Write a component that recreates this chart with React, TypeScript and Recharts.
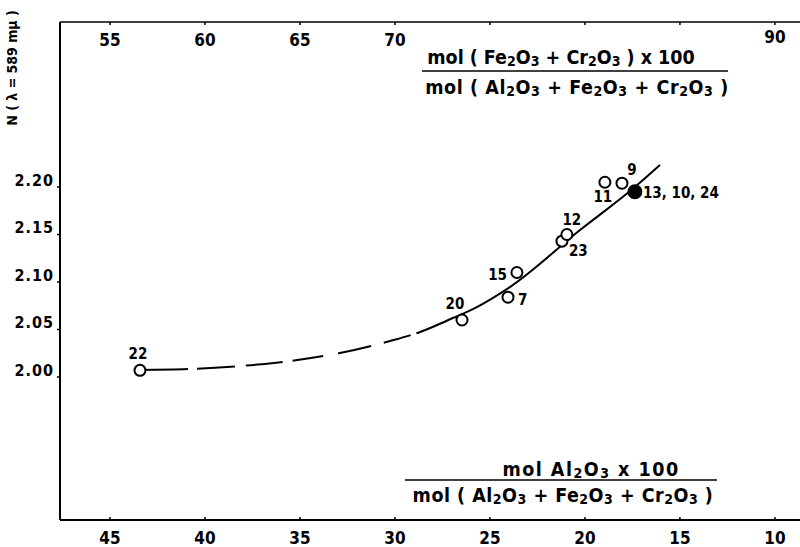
import React from "react";
import { ComposedChart, Line, Scatter, XAxis, YAxis } from "recharts";

const bottomTicks = [45, 40, 35, 30, 25, 20, 15, 10];
const topTicks = [55, 60, 65, 70, 75, 80, 85, 90];
const topLabelled = [55, 60, 65, 70, 90];
const yTicks = [2.0, 2.05, 2.1, 2.15, 2.2];

// mol% Al2O3 (bottom axis) and refractive index N
const sampleNames = ["22", "20", "7", "15", "23", "12", "11", "9"];
const sampleAl = [43.42, 26.47, 24.05, 23.58, 21.21, 20.95, 18.95, 18.05];
const sampleN = [2.007, 2.06, 2.084, 2.11, 2.143, 2.15, 2.205, 2.204];

const filledNames = ["13, 10, 24"];
const filledAl = [17.37];
const filledN = [2.195];

// fitted curve
const curveAl = [43.42, 40.79, 38.16, 35.53, 32.89, 30.26, 28.68, 26.95, 25.79, 23.95, 20.26, 17.37, 16.05];
const curveN = [2.0074, 2.0084, 2.0116, 2.0168, 2.0253, 2.0379, 2.0474, 2.0621, 2.0726, 2.0947, 2.1547, 2.2, 2.2232];

// solid start, dashed middle, solid to the end
const CURVE_DASH = "48 9 38 11 37 10 31 15 34 13 28 6 1200 0";

const labelOffset: Record<string, [number, number, "start" | "middle" | "end"]> = {
  "22": [-2, -16, "middle"],
  "20": [-7, -16, "middle"],
  "7": [10, 3, "start"],
  "15": [-10, 2, "end"],
  "23": [7, 10, "start"],
  "12": [5, -15, "middle"],
  "11": [-2, 15, "middle"],
  "9": [10, -13, "middle"],
  "13, 10, 24": [8, 1, "start"],
};

const FONT = "'DejaVu Sans Condensed', 'DejaVu Sans', sans-serif";

const toRows = (al: number[], n: number[], names?: string[]) =>
  al.map((a, i) => ({ al: a, n: n[i], name: names ? names[i] : "" }));

const samples = toRows(sampleAl, sampleN, sampleNames);
const filled = toRows(filledAl, filledN, filledNames);
const curve = toRows(curveAl, curveN);

function PointMark(props: any) {
  const { cx, cy, payload, solid } = props;
  if (cx == null || cy == null) return null;
  const off = labelOffset[payload.name] || [0, -14, "middle"];
  return (
    <g>
      <circle cx={cx} cy={cy} r={solid ? 6.5 : 5.5} fill={solid ? "#000" : "#fff"} stroke="#000" strokeWidth={2} />
      <text
        x={cx + off[0]}
        y={cy + off[1]}
        textAnchor={off[2]}
        dominantBaseline="central"
        fontFamily={FONT}
        fontWeight="bold"
        fontSize={15}
        fill="#000"
      >
        {payload.name}
      </text>
    </g>
  );
}

function BottomTick(props: any) {
  const { x, payload } = props;
  return (
    <g>
      <line x1={x} x2={x} y1={520} y2={517} stroke="#000" strokeWidth={1.5} />
      <text x={x} y={538} textAnchor="middle" dominantBaseline="central" fontFamily={FONT} fontWeight="bold" fontSize={17} fill="#000">
        {payload.value}
      </text>
    </g>
  );
}

function TopTick(props: any) {
  const { x, payload } = props;
  const v = Math.round(100 - payload.value);
  return (
    <g>
      <line x1={x} x2={x} y1={22} y2={25} stroke="#000" strokeWidth={1.5} />
      {topLabelled.includes(v) && (
        <text x={x} y={v === 90 ? 37 : 40} textAnchor="middle" dominantBaseline="central" fontFamily={FONT} fontWeight="bold" fontSize={17} fill="#000">
          {v}
        </text>
      )}
    </g>
  );
}

function LeftTick(props: any) {
  const { y, payload } = props;
  return (
    <g>
      <line x1={57} x2={60} y1={y} y2={y} stroke="#000" strokeWidth={1.5} />
      <text x={54} y={y - 7} textAnchor="end" dominantBaseline="central" fontFamily={FONT} fontWeight="bold" fontSize={16} letterSpacing={1} fill="#000">
        {payload.value.toFixed(2)}
      </text>
    </g>
  );
}

function Chem({ x, y, text, size, spacing = 0 }: { x: number; y: number; text: string; size: number; spacing?: number }) {
  const parts = text.split(/_(\d)/);
  return (
    <text x={x} y={y} textAnchor="middle" dominantBaseline="central" fontFamily={FONT} fontWeight="bold" fontSize={size} letterSpacing={spacing} fill="#000">
      {parts.map((p, i) =>
        i % 2 === 1 ? (
          <tspan key={i} dy={4} fontSize={size * 0.72}>
            {p}
          </tspan>
        ) : (
          <tspan key={i} dy={i === 0 ? 0 : -4}>
            {p}
          </tspan>
        )
      )}
    </text>
  );
}

export default function App() {
  return (
    <div style={{ position: "absolute", left: 0, top: 0, width: 800, height: 547, background: "#fff" }}>
      <ComposedChart width={800} height={547} margin={{ top: 0, right: 0, bottom: 0, left: 0 }}>
        <XAxis
          xAxisId="bottom"
          type="number"
          dataKey="al"
          orientation="bottom"
          domain={[8.68, 47.63]}
          reversed
          allowDataOverflow
          ticks={bottomTicks}
          interval={0}
          height={27}
          axisLine={{ stroke: "#000", strokeWidth: 2 }}
          tickLine={false}
          tick={<BottomTick />}
        />
        <XAxis
          xAxisId="top"
          type="number"
          dataKey="al"
          orientation="top"
          domain={[8.68, 47.63]}
          reversed
          allowDataOverflow
          ticks={topTicks.map((t) => 100 - t)}
          interval={0}
          height={22}
          axisLine={{ stroke: "#000", strokeWidth: 1.5 }}
          tickLine={false}
          tick={<TopTick />}
        />
        <YAxis
          yAxisId="n"
          type="number"
          dataKey="n"
          domain={[1.8495, 2.3737]}
          allowDataOverflow
          ticks={yTicks}
          interval={0}
          width={60}
          axisLine={{ stroke: "#000", strokeWidth: 2 }}
          tickLine={false}
          tick={<LeftTick />}
        />
        <Line xAxisId="top" yAxisId="n" data={curve} dataKey="n" type="monotone" stroke="none" dot={false} isAnimationActive={false} />
        <Line
          xAxisId="bottom"
          yAxisId="n"
          data={curve}
          dataKey="n"
          type="monotone"
          stroke="#000"
          strokeWidth={2}
          strokeDasharray={CURVE_DASH}
          dot={false}
          isAnimationActive={false}
        />
        <Scatter xAxisId="bottom" yAxisId="n" data={samples} dataKey="n" shape={(p: any) => <PointMark {...p} />} isAnimationActive={false} />
        <Scatter xAxisId="bottom" yAxisId="n" data={filled} dataKey="n" shape={(p: any) => <PointMark {...p} solid />} isAnimationActive={false} />
      </ComposedChart>
      <svg width={800} height={547} style={{ position: "absolute", left: 0, top: 0, pointerEvents: "none" }}>
        <text
          transform="translate(12,68) rotate(-90)"
          textAnchor="middle"
          dominantBaseline="central"
          fontFamily={FONT}
          fontWeight="bold"
          fontSize={14}
          fill="#000"
        >
          N ( λ = 589 mμ )
        </text>
        <Chem x={561} y={57} size={19.5} text="mol ( Fe_2O_3 + Cr_2O_3 ) x 100" />
        <line x1={422} x2={728} y1={71} y2={71} stroke="#000" strokeWidth={1.5} />
        <Chem x={577} y={87} size={19.5} spacing={0.6} text="mol ( Al_2O_3 + Fe_2O_3 + Cr_2O_3 )" />
        <Chem x={591} y={469} size={19.5} spacing={1.5} text="mol Al_2O_3 x 100" />
        <line x1={405} x2={717} y1={480} y2={480} stroke="#000" strokeWidth={1.5} />
        <Chem x={563} y={495} size={19.5} spacing={0.5} text="mol ( Al_2O_3 + Fe_2O_3 + Cr_2O_3 )" />
      </svg>
    </div>
  );
}
